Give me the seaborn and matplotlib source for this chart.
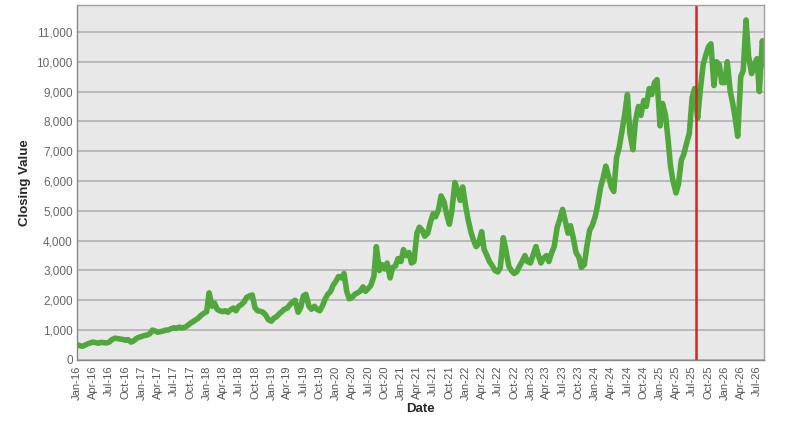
import pandas as pd
import matplotlib.pyplot as plt
import matplotlib.dates as mdates
import matplotlib.ticker as mticker
import seaborn as sns

# semi-monthly closing values (1st and 15th of each month), Jan-16 .. Aug-26
closing_values = [
    # 2016
    520, 480, 460, 500, 540, 570, 600, 580, 560, 590, 580, 570,
    600, 680, 730, 720, 700, 690, 660, 680, 600, 640, 720, 760,
    # 2017
    790, 820, 840, 880, 1000, 980, 930, 950, 970, 1000, 1010, 1050,
    1080, 1060, 1100, 1070, 1100, 1150, 1230, 1280, 1350, 1400, 1500, 1560,
    # 2018
    1620, 2250, 1800, 1900, 1700, 1650, 1620, 1650, 1600, 1680, 1740, 1650,
    1800, 1850, 1950, 2100, 2150, 2180, 1750, 1650, 1630, 1600, 1500, 1350,
    # 2019
    1300, 1400, 1460, 1550, 1620, 1700, 1740, 1850, 1950, 2000, 1600, 1750,
    2150, 2200, 1800, 1700, 1800, 1700, 1650, 1800, 2050, 2200, 2300, 2500,
    # 2020
    2650, 2800, 2750, 2900, 2300, 2050, 2100, 2200, 2250, 2300, 2450, 2300,
    2400, 2500, 2800, 3800, 3000, 3200, 3050, 3250, 2750, 3100, 3150, 3400,
    # 2021
    3300, 3700, 3500, 3600, 3250, 3300, 4250, 4450, 4350, 4150, 4250, 4600,
    4900, 4800, 5050, 5500, 5300, 4900, 4550, 5000, 5950, 5700, 5350, 5800,
    # 2022
    5150, 4700, 4250, 4000, 3800, 3900, 4300, 3700, 3500, 3300, 3150, 3000,
    2950, 3100, 4100, 3700, 3150, 3000, 2900, 2950, 3150, 3300, 3500, 3300,
    # 2023
    3250, 3500, 3800, 3500, 3250, 3400, 3500, 3300, 3600, 3800, 4450, 4700,
    5050, 4700, 4250, 4500, 4050, 3600, 3450, 3100, 3200, 3800, 4350, 4500,
    # 2024
    4800, 5200, 5800, 6100, 6500, 6200, 5800, 5650, 6800, 7100, 7700, 8200,
    8900, 7600, 7050, 8000, 8500, 8200, 8700, 8500, 9100, 8900, 9300, 9400,
    # 2025
    7850, 8600, 8200, 7400, 6500, 6000, 5600, 5900, 6700, 6900, 7300, 7600,
    8800, 9100, 8100, 9000, 9900, 10200, 10500, 10600, 9200, 10000, 9900, 9300,
    # 2026
    9300, 10000, 9000, 8600, 8100, 7500, 9500, 9700, 11400, 10200, 9600, 9900,
    10100, 9000, 10700, 9900,
]
start_date = "2016-01-01"
marker_date = "2025-07-25"
x_end = "2026-08-10"

dates = pd.date_range(start_date, periods=len(closing_values), freq="SMS")
df = pd.DataFrame({"Date": dates, "Closing Value": closing_values})

sns.set_style("whitegrid", {"axes.facecolor": "#E8E8E8",
                            "axes.edgecolor": "#A0A0A0",
                            "grid.color": "#B4B4B4"})
plt.rcParams["font.family"] = ["Liberation Sans", "DejaVu Sans"]

fig = plt.figure(figsize=(8.08, 4.21), dpi=100)
ax = fig.add_axes([0.0953, 0.145, 0.8502, 0.843])

sns.lineplot(data=df, x="Date", y="Closing Value", ax=ax,
             color="#50A83C", linewidth=4)
ax.axvline(pd.Timestamp(marker_date), color="#E02020", linewidth=1.8)

ax.set_xlim(pd.Timestamp(start_date), pd.Timestamp(x_end))
ax.set_ylim(0, 11900)
ax.yaxis.set_major_locator(mticker.MultipleLocator(1000))
ax.yaxis.set_major_formatter(mticker.StrMethodFormatter("{x:,.0f}"))
ax.xaxis.set_major_locator(mdates.MonthLocator(bymonth=[1, 4, 7, 10]))
ax.xaxis.set_major_formatter(mdates.DateFormatter("%b-%y"))
ax.grid(axis="x", visible=False)
ax.grid(axis="y", linewidth=1.3)

ax.tick_params(axis="x", labelrotation=90, labelsize=8, colors="#555555",
               length=3, pad=1)
ax.tick_params(axis="y", labelsize=8.5, colors="#666666", length=0, pad=3)
for s in ax.spines.values():
    s.set_linewidth(1.0)
ax.spines["left"].set_color("#888888")
ax.spines["bottom"].set_color("#888888")

ax.set_xlabel("Date", fontsize=9.5, fontweight="bold", labelpad=2)
ax.set_ylabel("Closing Value", fontsize=9.5, fontweight="bold", labelpad=4)

fig.savefig("out.png", dpi=100)
